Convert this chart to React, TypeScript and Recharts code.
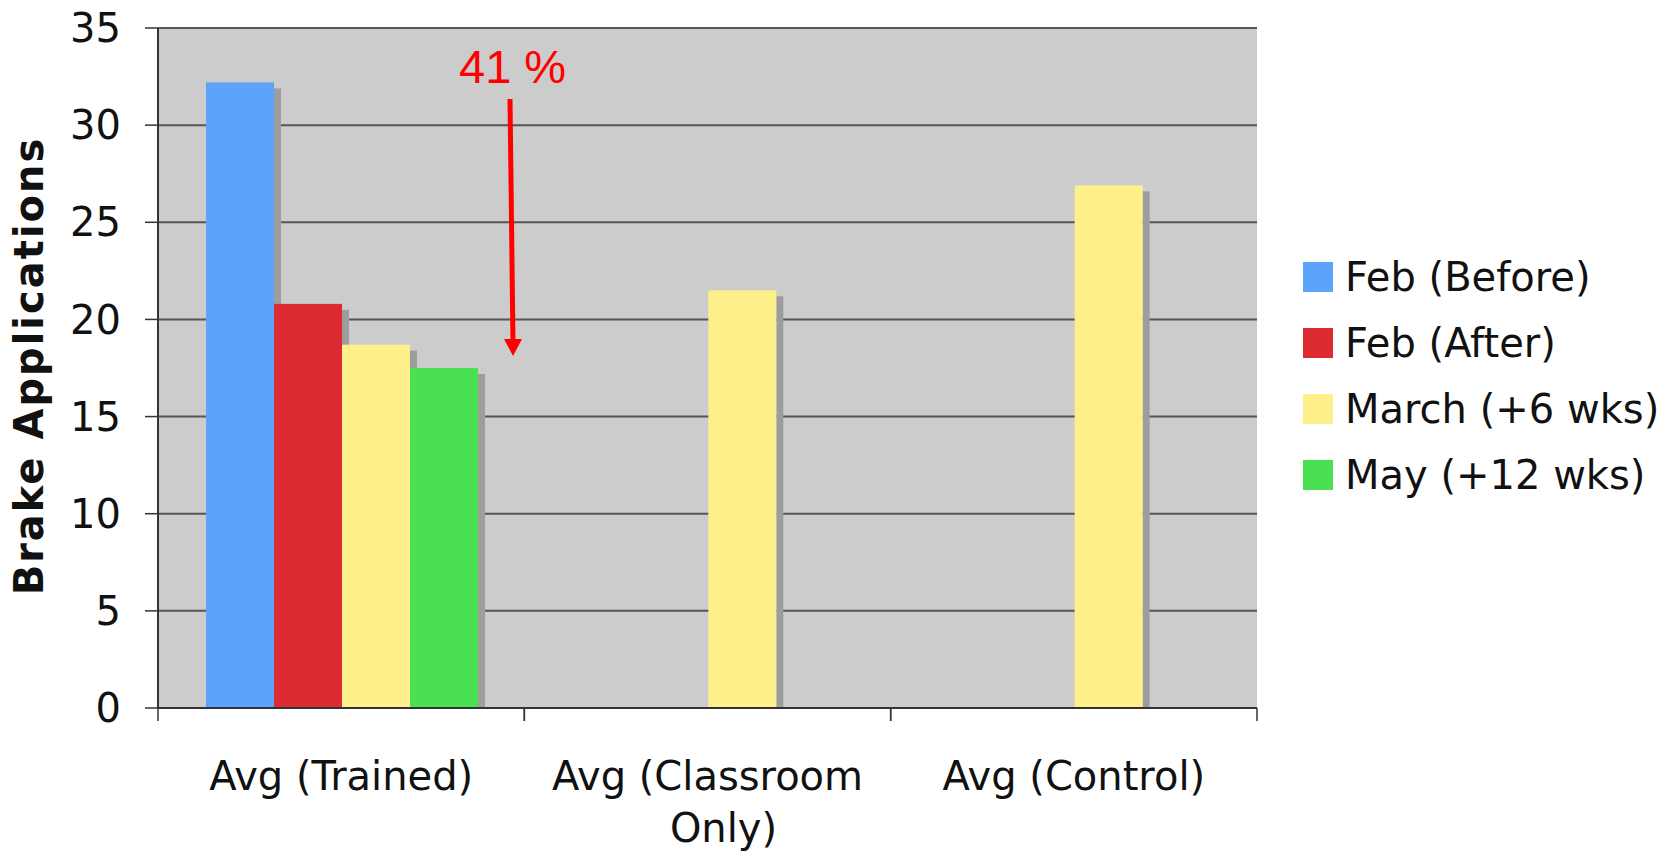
import React from 'react';
import { BarChart, Bar, XAxis, YAxis, CartesianGrid, Legend } from 'recharts';

const CATEGORIES = ['Avg (Trained)', 'Avg (Classroom Only)', 'Avg (Control)'];
const CATEGORY_LINES = [['Avg (Trained)'], ['Avg (Classroom', 'Only)'], ['Avg (Control)']];
const FEB_BEFORE = [32.2, null, null];
const FEB_AFTER = [20.8, null, null];
const MARCH = [18.7, 21.5, 26.9];
const MAY = [17.5, null, null];
const Y_TICKS = [0, 5, 10, 15, 20, 25, 30, 35];

const SERIES = [
  { key: 'febBefore', name: 'Feb (Before)', color: '#5ea3fb' },
  { key: 'febAfter', name: 'Feb (After)', color: '#dc2a33' },
  { key: 'march', name: 'March (+6 wks)', color: '#fdf08b' },
  { key: 'may', name: 'May (+12 wks)', color: '#4ae052' },
];

const data = CATEGORIES.map((name, i) => ({
  name,
  febBefore: FEB_BEFORE[i],
  febAfter: FEB_AFTER[i],
  march: MARCH[i],
  may: MAY[i],
}));

const FONT = '"DejaVu Sans", Verdana, sans-serif';

function ShadowBar(props: any) {
  const { x, y, width, height, fill } = props;
  if (!height || height <= 0) return null;
  return (
    <g>
      <rect x={x + width} y={y + 6} width={7} height={height - 6} fill="#9d9d9d" />
      <rect x={x} y={y} width={width} height={height} fill={fill} />
    </g>
  );
}

// category label plus tick marks on the band edges (Excel-style)
function CategoryTick(props: any) {
  const { x, y, payload, index, width, visibleTicksCount } = props;
  const lines = CATEGORY_LINES[index] || [payload.value];
  const count = visibleTicksCount || CATEGORIES.length;
  const half =
    typeof payload.offset === 'number' && payload.offset > 0 ? payload.offset : width / (count * 2);
  return (
    <g>
      <line x1={x - half} x2={x - half} y1={y} y2={y + 13} stroke="#333" strokeWidth={1.5} />
      <line x1={x + half} x2={x + half} y1={y} y2={y + 13} stroke="#333" strokeWidth={1.5} />
      <text x={x} y={y} textAnchor="middle" fontSize={40} fontFamily={FONT} fill="#111">
        {lines.map((line: string, i: number) => (
          <tspan key={i} x={i === 0 ? x : x + 16} dy={i === 0 ? 82 : 52}>
            {line}
          </tspan>
        ))}
      </text>
    </g>
  );
}

function LegendBox() {
  return (
    <div style={{ fontFamily: FONT, fontSize: 40, color: '#111' }}>
      {SERIES.map((s) => (
        <div key={s.key} style={{ display: 'flex', alignItems: 'center', height: 66 }}>
          <span style={{ display: 'inline-block', width: 30, height: 30, background: s.color, marginRight: 12 }} />
          <span style={{ lineHeight: '66px', whiteSpace: 'nowrap' }}>{s.name}</span>
        </div>
      ))}
    </div>
  );
}

export default function App() {
  return (
    <div style={{ position: 'absolute', left: 0, top: 0, width: 1679, height: 858, background: '#fff', fontFamily: FONT }}>
      <BarChart
        width={1679}
        height={858}
        data={data}
        margin={{ top: 28, right: 422, left: 0, bottom: 0 }}
        barCategoryGap={48}
        barGap={0}
      >
        <CartesianGrid vertical={false} fill="#cccccc" fillOpacity={1} stroke="#555" strokeWidth={2} />
        <XAxis
          dataKey="name"
          interval={0}
          height={150}
          axisLine={{ stroke: '#333', strokeWidth: 2 }}
          tickLine={false}
          tickSize={0}
          tickMargin={0}
          tick={<CategoryTick />}
        />
        <YAxis
          domain={[0, 35]}
          ticks={Y_TICKS}
          interval={0}
          width={158}
          tickSize={13}
          tickMargin={24}
          axisLine={{ stroke: '#333', strokeWidth: 2 }}
          tickLine={{ stroke: '#333', strokeWidth: 1.5 }}
          tick={{ fill: '#111', fontSize: 40, fontFamily: FONT }}
        />
        <YAxis
          yAxisId="right"
          orientation="right"
          domain={[0, 35]}
          width={0}
          tick={false}
          tickLine={false}
          axisLine={{ stroke: '#666', strokeWidth: 2 }}
        />
        {SERIES.map((s) => (
          <Bar
            key={s.key}
            dataKey={s.key}
            name={s.name}
            fill={s.color}
            shape={<ShadowBar />}
            isAnimationActive={false}
          />
        ))}
        <Legend
          layout="vertical"
          align="center"
          verticalAlign="middle"
          wrapperStyle={{ left: 1303, top: 244 }}
          content={<LegendBox />}
        />
      </BarChart>
      <svg
        width={1679}
        height={858}
        style={{ position: 'absolute', left: 0, top: 0, pointerEvents: 'none' }}
      >
        <text
          transform="translate(43 366) rotate(-90)"
          textAnchor="middle"
          fontFamily={FONT}
          fontWeight="bold"
          fontSize={40}
          letterSpacing={2}
          fill="#111"
        >
          Brake Applications
        </text>
        <text x={459} y={83} fontFamily='"Liberation Sans", Arial, sans-serif' fontSize={47} fill="#ff0000">
          41 %
        </text>
        <line x1={510} y1={99} x2={513} y2={342} stroke="#ff0000" strokeWidth={5} />
        <polygon points="504,339 522,339 513,356" fill="#ff0000" />
      </svg>
    </div>
  );
}
